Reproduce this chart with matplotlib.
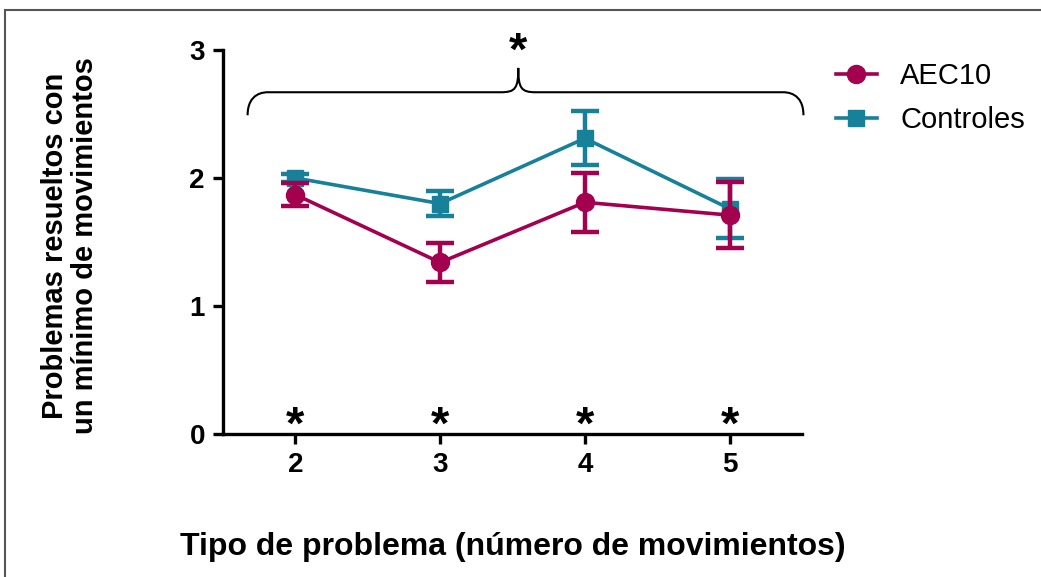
import matplotlib
matplotlib.use("Agg")
import matplotlib.pyplot as plt
from matplotlib.path import Path
from matplotlib.patches import PathPatch, Rectangle
from matplotlib.lines import Line2D

plt.rcParams['font.family'] = ['Liberation Sans', 'DejaVu Sans']

problem_types = [2, 3, 4, 5]
tick_labels = ["2", "3", "4", "5"]
aec10_mean = [1.87, 1.34, 1.81, 1.71]
aec10_err = [0.09, 0.15, 0.23, 0.26]
ctrl_mean = [2.00, 1.80, 2.31, 1.76]
ctrl_err = [0.03, 0.10, 0.21, 0.23]
series_names = ["AEC10", "Controles"]
sig_marks = ["*", "*", "*", "*"]

c_aec = "#A3004F"
c_ctrl = "#17819A"

fig = plt.figure(figsize=(10.41, 5.77), dpi=100)
fig.patch.set_facecolor("white")
# outer frame
fig.add_artist(Rectangle((5/1041, -0.1), 1.2, 1 - 10/577 + 0.1, transform=fig.transFigure,
                         fill=False, edgecolor="#555555", linewidth=1.5))

ax = fig.add_axes([223/1041, 1 - 434/577, (802 - 223)/1041, (434 - 50)/577])

ax.errorbar(problem_types, ctrl_mean, yerr=ctrl_err, color=c_ctrl, marker="s",
            markersize=11, linewidth=2.6, elinewidth=3.2, capsize=10, capthick=3.2,
            clip_on=False, zorder=3)
ax.errorbar(problem_types, aec10_mean, yerr=aec10_err, color=c_aec, marker="o",
            markersize=13, linewidth=2.6, elinewidth=3.2, capsize=10, capthick=3.2,
            clip_on=False, zorder=4)

ax.set_xlim(1.5, 5.5)
ax.set_ylim(0, 3)
ax.set_xticks(problem_types)
ax.set_xticklabels(tick_labels)
ax.set_yticks([0, 1, 2, 3])
for s in ["top", "right"]:
    ax.spines[s].set_visible(False)
for s in ["left", "bottom"]:
    ax.spines[s].set_linewidth(2.4)
ax.tick_params(axis="both", direction="out", length=7, width=2.4, labelsize=20, pad=6)
for lab in ax.get_xticklabels() + ax.get_yticklabels():
    lab.set_fontweight("bold")

ax.set_ylabel("Problemas resueltos con\nun mínimo de movimientos", fontsize=21,
              fontweight="bold", linespacing=1.05)
ax.yaxis.set_label_coords(-0.215, 0.49)
ax.set_xlabel("Tipo de problema (número de movimientos)", fontsize=23, fontweight="bold")
ax.xaxis.set_label_coords(0.5, -0.255)

# significance stars at bottom
for x, m in zip(problem_types, sig_marks):
    ax.text(x, 0.06, m, ha="center", va="center", fontsize=34, fontweight="bold", clip_on=False)

# curly brace
x0, x1, xm = 1.67, 5.51, 3.54
yb, yh, yp = 2.49, 2.67, 2.86
verts = [
    (x0, yb), (x0, yh), (x0 + 0.12, yh), (x0 + 0.14, yh),
    (xm - 0.12, yh),
    (xm - 0.02, yh), (xm, yh + 0.03), (xm, yp),
    (xm, yh + 0.03), (xm + 0.02, yh), (xm + 0.12, yh),
    (x1 - 0.14, yh),
    (x1 - 0.12, yh), (x1, yh), (x1, yb),
]
codes = [Path.MOVETO, Path.CURVE4, Path.CURVE4, Path.CURVE4,
         Path.LINETO,
         Path.CURVE4, Path.CURVE4, Path.CURVE4,
         Path.CURVE4, Path.CURVE4, Path.CURVE4,
         Path.LINETO,
         Path.CURVE4, Path.CURVE4, Path.CURVE4]
ax.add_patch(PathPatch(Path(verts, codes), fill=False, edgecolor="black", linewidth=1.5,
                       clip_on=False))
ax.text(xm, 2.98, "*", ha="center", va="center", fontsize=34, fontweight="bold", clip_on=False)

handles = [Line2D([], [], color=c_aec, marker="o", markersize=13, linewidth=2.6),
           Line2D([], [], color=c_ctrl, marker="s", markersize=11, linewidth=2.6)]
fig.legend(handles=handles, labels=series_names, loc="upper left",
           bbox_to_anchor=(836/1041, 1 - 62/577), frameon=False, fontsize=21,
           handlelength=1.4, handletextpad=0.8, labelspacing=0.55, borderpad=0,
           borderaxespad=0)

fig.savefig("out.png", dpi=100)
